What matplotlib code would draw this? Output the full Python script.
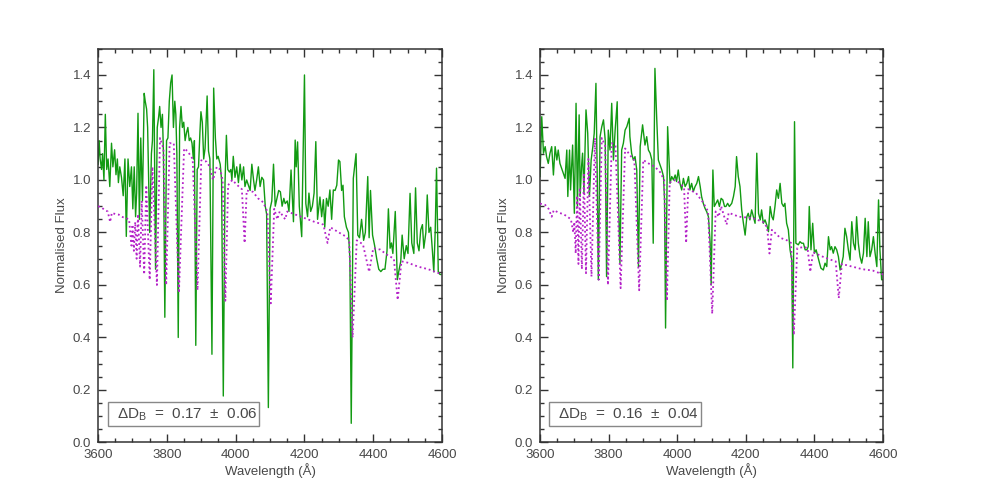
import matplotlib
matplotlib.use("Agg")
import matplotlib.pyplot as plt
from matplotlib.patches import Rectangle
from matplotlib.ticker import MultipleLocator

plt.rcParams['font.family'] = ['Liberation Sans', 'DejaVu Sans']

# ---------------- data: left panel ----------------
left_obs_wave = [3600, 3603, 3606, 3610, 3613, 3617, 3621, 3625, 3629, 3634, 3639, 3643, 3648, 3652,
                 3656, 3659, 3663, 3668, 3673, 3678, 3682, 3687, 3692, 3697, 3701, 3705, 3709, 3712,
                 3716, 3720, 3724, 3729, 3734, 3737, 3741, 3744, 3750, 3755, 3758, 3762, 3767, 3772,
                 3776, 3779, 3783, 3787, 3790, 3794, 3799, 3803, 3807, 3811, 3815, 3819, 3823, 3826,
                 3829, 3833, 3837, 3841, 3845, 3849, 3853, 3857, 3861, 3865, 3869, 3873, 3877, 3880,
                 3884, 3888, 3892, 3896, 3899, 3903, 3907, 3911, 3917, 3921, 3925, 3931, 3936, 3941,
                 3945, 3949, 3955, 3959, 3964, 3969, 3973, 3977, 3982, 3986, 3989, 3993, 3998, 4003,
                 4008, 4013, 4018, 4023, 4027, 4032, 4037, 4042, 4047, 4052, 4056, 4061, 4066, 4071,
                 4076, 4081, 4086, 4090, 4095, 4100, 4105, 4110, 4115, 4120, 4125, 4130, 4135, 4140,
                 4144, 4150, 4155, 4161, 4168, 4173, 4176, 4180, 4185, 4192, 4200, 4204, 4209, 4213,
                 4218, 4223, 4228, 4233, 4238, 4245, 4250, 4255, 4259, 4264, 4269, 4274, 4279, 4284,
                 4289, 4294, 4299, 4303, 4308, 4312, 4316, 4322, 4328, 4332, 4336, 4342, 4350, 4355,
                 4360, 4366, 4372, 4377, 4384, 4388, 4392, 4398, 4404, 4410, 4416, 4422, 4428, 4434,
                 4440, 4444, 4449, 4453, 4457, 4464, 4470, 4474, 4480, 4484, 4490, 4496, 4501, 4507,
                 4512, 4518, 4523, 4528, 4533, 4538, 4543, 4547, 4553, 4557, 4562, 4567, 4572, 4576,
                 4580, 4584, 4589, 4594, 4600]
left_obs_flux = [1.06, 1.15, 1.08, 1.04, 1.10, 1.00, 1.25, 1.04, 1.08, 0.975, 1.14, 1.05, 1.115, 1.02,
                 1.08, 0.99, 1.05, 1.01, 0.94, 1.08, 0.785, 1.08, 0.975, 1.05, 0.89, 1.05, 0.86, 0.95,
                 1.254, 0.85, 1.16, 0.92, 1.33, 1.30, 1.27, 1.20, 0.80, 1.10, 1.15, 1.42, 0.66, 1.20,
                 1.24, 1.28, 1.20, 1.25, 1.10, 0.477, 1.15, 1.16, 1.30, 1.37, 1.40, 1.20, 1.30, 1.25,
                 1.10, 0.40, 1.20, 1.28, 1.20, 1.22, 1.15, 1.18, 1.20, 1.15, 1.16, 1.14, 1.08, 1.15,
                 0.37, 1.04, 1.05, 1.18, 1.26, 1.22, 1.08, 1.12, 1.32, 1.11, 1.08, 0.336, 1.35, 1.16,
                 1.08, 1.09, 1.06, 1.00, 0.177, 0.99, 1.17, 1.04, 1.03, 1.04, 1.00, 1.09, 1.01, 1.05,
                 0.99, 1.06, 1.00, 1.05, 0.975, 1.00, 0.98, 0.96, 1.06, 1.00, 0.96, 1.00, 1.05, 0.975,
                 1.01, 1.00, 0.90, 0.87, 0.133, 0.89, 0.92, 1.06, 0.90, 0.93, 0.96, 0.955, 0.90, 0.93,
                 0.91, 0.92, 0.88, 1.038, 0.841, 1.152, 1.05, 1.145, 0.90, 0.784, 1.40, 0.91, 0.86, 0.95,
                 0.88, 0.90, 0.95, 1.146, 0.85, 0.935, 0.86, 0.925, 0.82, 0.93, 0.90, 0.962, 0.85, 0.962,
                 0.96, 0.98, 1.076, 1.07, 0.96, 0.98, 0.86, 0.82, 0.80, 0.70, 0.073, 1.006, 1.10, 0.79,
                 0.78, 0.85, 0.77, 0.80, 1.013, 0.78, 0.96, 0.79, 0.75, 0.70, 0.66, 0.651, 0.66, 0.66,
                 0.73, 0.89, 0.74, 0.76, 0.72, 0.88, 0.62, 0.65, 0.69, 0.79, 0.70, 0.75, 0.72, 0.949,
                 0.76, 0.72, 0.97, 0.76, 0.73, 0.81, 0.83, 0.74, 0.80, 0.943, 0.80, 0.82, 0.73, 0.65,
                 0.80, 1.045, 0.65, 0.64, 0.64]

left_mod_wave = [3600, 3610, 3620, 3628, 3635, 3640, 3650, 3660, 3668, 3680, 3690, 3697, 3700, 3704,
                 3708, 3712, 3716, 3722, 3727, 3734, 3740, 3750, 3758, 3771, 3780, 3790, 3798, 3808,
                 3820, 3835, 3850, 3860, 3875, 3889, 3900, 3915, 3925, 3934, 3945, 3955, 3962, 3970,
                 3978, 3990, 4005, 4018, 4026, 4032, 4050, 4065, 4080, 4092, 4102, 4112, 4121, 4128,
                 4144, 4150, 4170, 4200, 4230, 4255, 4267, 4275, 4300, 4320, 4330, 4340, 4352, 4370,
                 4388, 4400, 4420, 4440, 4460, 4471, 4482, 4500, 4530, 4560, 4600]
left_mod_flux = [0.90, 0.895, 0.885, 0.88, 0.84, 0.875, 0.87, 0.868, 0.86, 0.855, 0.85, 0.75, 0.83, 0.73,
                 0.84, 0.70, 0.87, 0.67, 0.92, 0.64, 0.98, 0.62, 1.05, 0.60, 1.16, 1.12, 0.60, 1.14,
                 1.14, 0.57, 1.12, 1.11, 1.08, 0.58, 1.075, 1.07, 1.05, 1.00, 1.05, 1.04, 1.00, 0.54,
                 0.98, 1.00, 0.98, 0.965, 0.76, 0.96, 0.955, 0.93, 0.915, 0.88, 0.53, 0.89, 0.85, 0.88,
                 0.85, 0.88, 0.87, 0.855, 0.84, 0.83, 0.76, 0.82, 0.80, 0.785, 0.77, 0.40, 0.77, 0.755,
                 0.65, 0.74, 0.735, 0.715, 0.70, 0.543, 0.69, 0.685, 0.67, 0.66, 0.64]

# ---------------- data: right panel ----------------
right_obs_wave = [3600, 3605, 3610, 3615, 3619, 3624, 3629, 3634, 3639, 3644, 3649, 3653, 3658, 3663,
                  3668, 3673, 3678, 3681, 3686, 3689, 3695, 3700, 3705, 3709, 3714, 3717, 3721, 3724,
                  3728, 3734, 3739, 3744, 3749, 3754, 3758, 3763, 3767, 3770, 3775, 3780, 3785, 3790,
                  3794, 3799, 3804, 3809, 3814, 3819, 3825, 3828, 3833, 3838, 3843, 3848, 3853, 3860,
                  3862, 3867, 3872, 3877, 3882, 3887, 3892, 3899, 3906, 3911, 3916, 3921, 3926, 3930,
                  3935, 3940, 3945, 3950, 3955, 3960, 3963, 3966, 3972, 3979, 3984, 3989, 3994, 3998,
                  4003, 4008, 4013, 4018, 4023, 4028, 4033, 4037, 4042, 4047, 4052, 4057, 4062, 4067,
                  4071, 4076, 4081, 4086, 4091, 4096, 4099, 4104, 4108, 4113, 4118, 4123, 4128, 4133,
                  4138, 4142, 4147, 4152, 4159, 4164, 4169, 4173, 4178, 4183, 4188, 4193, 4198, 4203,
                  4207, 4212, 4217, 4222, 4227, 4232, 4237, 4242, 4246, 4251, 4256, 4261, 4266, 4271,
                  4276, 4280, 4285, 4290, 4295, 4300, 4305, 4310, 4314, 4319, 4324, 4329, 4334, 4337,
                  4342, 4346, 4353, 4358, 4363, 4368, 4373, 4378, 4382, 4385, 4390, 4395, 4400, 4405,
                  4410, 4415, 4419, 4426, 4431, 4436, 4441, 4446, 4450, 4455, 4460, 4465, 4470, 4475,
                  4480, 4484, 4489, 4494, 4499, 4504, 4509, 4514, 4519, 4523, 4528, 4533, 4538, 4543,
                  4548, 4553, 4557, 4562, 4567, 4572, 4577, 4582, 4587, 4591, 4596, 4600]
right_obs_flux = [1.013, 1.241, 1.102, 1.127, 1.089, 1.063, 1.102, 1.127, 1.019, 1.127, 1.076, 1.114, 1.063, 1.044,
                  1.025, 1.006, 1.114, 0.937, 1.114, 0.962, 1.133, 0.873, 1.292, 0.899, 1.248, 0.937, 1.051, 1.102,
                  0.95, 1.267, 1.178, 0.937, 1.076, 1.127, 1.178, 1.368, 0.987, 0.62, 1.165, 1.203, 1.229, 1.152,
                  0.632, 1.19, 1.114, 1.292, 1.076, 1.19, 1.298, 0.987, 0.683, 1.114, 1.14, 1.19, 1.203, 1.235,
                  1.165, 1.102, 1.076, 1.089, 1.038, 0.67, 1.127, 1.21, 1.133, 1.165, 1.114, 1.102, 1.076, 0.759,
                  1.425, 1.241, 1.076, 1.057, 1.038, 1.013, 0.924, 0.436, 1.203, 0.987, 1.013, 1.0, 1.019, 0.994,
                  1.038, 0.987, 0.962, 1.006, 0.975, 0.987, 1.013, 0.962, 0.987, 0.956, 0.975, 0.987, 1.013, 0.975,
                  0.937, 0.911, 0.892, 0.879, 0.86, 0.759, 0.60, 1.038, 0.899, 0.911, 0.924, 0.899, 0.93, 0.924,
                  0.899, 0.899, 0.911, 0.899, 0.911, 0.937, 0.975, 1.089, 1.013, 0.975, 0.886, 0.835, 0.79, 0.86,
                  0.873, 0.848, 0.886, 0.86, 0.835, 1.102, 0.873, 0.848, 0.886, 0.835, 0.848, 0.829, 0.803, 0.899,
                  0.86, 0.848, 0.899, 0.962, 0.93, 0.987, 0.911, 0.899, 0.911, 0.835, 0.81, 0.734, 0.695, 0.284,
                  1.222, 0.759, 0.753, 0.765, 0.759, 0.759, 0.734, 0.734, 0.746, 0.899, 0.734, 0.835, 0.721, 0.734,
                  0.708, 0.683, 0.664, 0.657, 0.683, 0.67, 0.784, 0.734, 0.746, 0.721, 0.746, 0.734, 0.708, 0.657,
                  0.683, 0.708, 0.816, 0.784, 0.734, 0.695, 0.841, 0.759, 0.734, 0.86, 0.759, 0.708, 0.683, 0.721,
                  0.854, 0.708, 0.841, 0.708, 0.734, 0.784, 0.721, 0.67, 0.924, 0.734, 0.62, 0.62]

right_mod_wave = [3600, 3615, 3625, 3634, 3640, 3655, 3668, 3680, 3690, 3697, 3700, 3704, 3708, 3712,
                  3716, 3722, 3728, 3734, 3741, 3750, 3760, 3771, 3780, 3790, 3798, 3809, 3820, 3835,
                  3848, 3865, 3875, 3889, 3901, 3920, 3935, 3950, 3962, 3970, 3978, 3995, 4010, 4020,
                  4026, 4032, 4055, 4075, 4090, 4102, 4112, 4121, 4128, 4144, 4150, 4180, 4220, 4250,
                  4262, 4269, 4276, 4300, 4320, 4332, 4340, 4350, 4370, 4380, 4388, 4396, 4420, 4450,
                  4462, 4471, 4480, 4510, 4540, 4570, 4600]
right_mod_flux = [0.91, 0.905, 0.89, 0.86, 0.885, 0.875, 0.87, 0.86, 0.85, 0.80, 0.84, 0.72, 0.94, 0.68,
                  0.97, 0.66, 1.02, 0.645, 1.08, 0.632, 1.16, 0.62, 1.16, 1.13, 0.60, 1.14, 1.13, 0.588,
                  1.12, 1.09, 1.075, 0.58, 1.076, 1.06, 1.05, 1.03, 1.00, 0.54, 0.99, 1.0, 0.985, 0.97,
                  0.76, 0.965, 0.95, 0.915, 0.88, 0.49, 0.88, 0.86, 0.90, 0.83, 0.875, 0.86, 0.855, 0.84,
                  0.82, 0.72, 0.81, 0.78, 0.77, 0.76, 0.41, 0.74, 0.745, 0.74, 0.65, 0.725, 0.71, 0.695,
                  0.69, 0.55, 0.68, 0.67, 0.66, 0.655, 0.64]

delta_values = ['0.17', '0.16']
delta_errors = ['0.06', '0.04']

x_ticks = [3600, 3800, 4000, 4200, 4400, 4600]
y_ticks = [0.0, 0.2, 0.4, 0.6, 0.8, 1.0, 1.2, 1.4]

# ---------------- drawing ----------------
GREEN = '#129a12'
MAGENTA = '#b422c8'
TXT = '#484848'
AX = '#333333'

fig = plt.figure(figsize=(9.81, 4.91), dpi=100)
positions = [[0.100, 0.0988, 0.3506, 0.802], [0.5505, 0.0988, 0.3496, 0.802]]
panels = [(left_obs_wave, left_obs_flux, left_mod_wave, left_mod_flux),
          (right_obs_wave, right_obs_flux, right_mod_wave, right_mod_flux)]
box_x = [0.029, 0.026]
box_w = [0.439, 0.443]

for i, (ow, of, mw, mf) in enumerate(panels):
    ax = fig.add_axes(positions[i])
    ax.plot(ow, of, color=GREEN, lw=1.0, zorder=2)
    ax.plot(mw, mf, color=MAGENTA, lw=1.3, linestyle=(0, (1, 1.6)), zorder=3)
    ax.set_xlim(3600, 4600)
    ax.set_ylim(0.0, 1.5)
    ax.set_xticks(x_ticks)
    ax.set_yticks(y_ticks)
    ax.set_yticklabels([f'{v:.1f}' for v in y_ticks])
    ax.xaxis.set_minor_locator(MultipleLocator(50))
    ax.yaxis.set_minor_locator(MultipleLocator(0.05))
    ax.tick_params(which='both', direction='in', top=True, right=True, colors=AX,
                   labelcolor=TXT, labelsize=9.5, width=1.0)
    ax.tick_params(which='major', length=5.5, pad=5)
    ax.tick_params(which='minor', length=2.8)
    for s in ax.spines.values():
        s.set_color(AX)
        s.set_linewidth(1.1)
    ax.set_xlabel('Wavelength (\u00c5)', color=TXT, fontsize=9.5, labelpad=1)
    ax.set_ylabel('Normalised Flux', color=TXT, fontsize=9.5, labelpad=3)
    ax.add_patch(Rectangle((box_x[i], 0.042), box_w[i], 0.061, transform=ax.transAxes,
                           facecolor='white', edgecolor='#888888', lw=1.0, zorder=5))
    label = ('\u0394D$_{\\mathregular{B}}$  =  ' + delta_values[i] + '  \u00b1  ' + delta_errors[i])
    ax.text(box_x[i] + box_w[i] / 2 + 0.01, 0.071, label,
            transform=ax.transAxes, ha='center', va='center', color=TXT, fontsize=11, zorder=6)

fig.savefig('out.png', dpi=100, facecolor='white')
